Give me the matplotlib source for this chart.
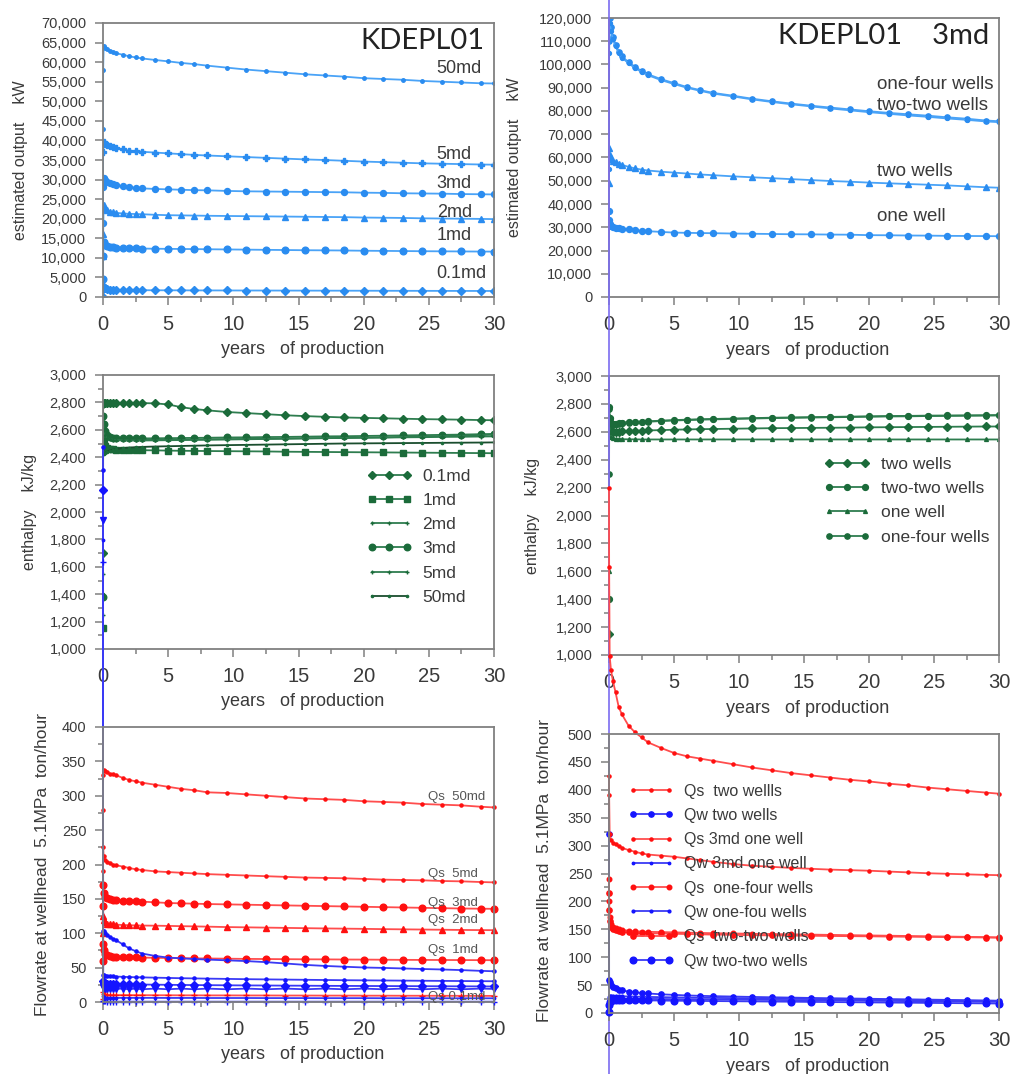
import matplotlib
matplotlib.use("Agg")
import matplotlib.pyplot as plt
from matplotlib.ticker import MultipleLocator, FuncFormatter

plt.rcParams['font.family'] = ['Liberation Sans', 'DejaVu Sans']

# ---------------- data ----------------
years = [0, 0.01, 0.05, 0.15, 0.3, 0.5, 0.75, 1, 1.5, 2, 2.5, 3, 4, 5, 6, 7, 8, 9.5,
         11, 12.5, 14, 15.5, 17, 18.5, 20, 21.5, 23, 24.5, 26, 27.5, 29, 30]

# panel 1: estimated output (kW) by permeability
out_50md = [43000, 58000, 64000, 63700, 63300, 62900, 62600, 62300, 61900, 61500, 61200, 60950, 60550, 60200, 59800, 59500,
            59100, 58600, 58100, 57700, 57300, 56900, 56600, 56300, 55900, 55700, 55500, 55200, 55000, 54800, 54600, 54550]
out_5md = [30000, 37000, 39700, 39200, 38900, 38600, 38300, 38000, 37700, 37400, 37250, 37100, 36900, 36700, 36500, 36300,
           36150, 35950, 35750, 35550, 35350, 35150, 35000, 34800, 34600, 34450, 34300, 34150, 34050, 33950, 33850, 33800]
out_3md = [19000, 28000, 30500, 29900, 29400, 29000, 28800, 28600, 28300, 28100, 27900, 27750, 27600, 27500, 27400, 27300,
           27250, 27100, 27000, 26950, 26900, 26850, 26800, 26750, 26650, 26600, 26500, 26450, 26400, 26300, 26250, 26200]
out_2md = [10500, 16000, 23500, 22600, 22100, 21800, 21650, 21500, 21350, 21250, 21200, 21150, 21000, 20900, 20850, 20800,
           20750, 20700, 20650, 20600, 20550, 20500, 20450, 20400, 20300, 20250, 20200, 20100, 20050, 20000, 19950, 19900]
out_1md = [4500, 10500, 14000, 13300, 13000, 12850, 12700, 12600, 12500, 12450, 12400, 12380, 12330, 12300, 12270, 12240,
           12200, 12150, 12100, 12050, 12000, 11950, 11920, 11880, 11820, 11780, 11740, 11700, 11670, 11640, 11610, 11600]
out_01md = [0, 2000, 2600, 2200, 2000, 1900, 1850, 1800, 1780, 1760, 1750, 1740, 1720, 1710, 1700, 1690,
            1680, 1670, 1660, 1650, 1640, 1630, 1620, 1610, 1600, 1590, 1580, 1570, 1560, 1550, 1545, 1540]
out_labels = ['50md', '5md', '3md', '2md', '1md', '0.1md']

# panel 2: estimated output (kW), 3md, well configurations
out_onefour = [60000, 110000, 120000, 116000, 112000, 108500, 105500, 103500, 101000, 99000, 97200, 95800, 93700, 92000, 90300, 89000,
               87800, 86600, 85300, 84200, 83200, 82300, 81500, 80700, 79900, 79200, 78600, 78000, 77300, 76700, 75900, 75600]
out_twotwo = [55000, 105000, 118000, 114500, 111000, 107800, 105000, 103000, 100500, 98500, 96800, 95400, 93300, 91600, 90000, 88700,
              87500, 86300, 85000, 83900, 82900, 82000, 81100, 80300, 79500, 78800, 78100, 77500, 76800, 76200, 75500, 75200]
out_two = [49000, 64000, 61000, 59500, 58700, 58000, 57400, 56800, 56000, 55300, 54800, 54400, 53900, 53500, 53100, 52700,
           52400, 51900, 51500, 51100, 50700, 50300, 49900, 49600, 49200, 48900, 48600, 48300, 48000, 47600, 47200, 47000]
out_one = [37000, 33000, 31500, 30500, 30000, 29700, 29500, 29400, 29100, 28700, 28500, 28300, 28000, 27700, 27600, 27500,
           27450, 27300, 27200, 27100, 27000, 26950, 26850, 26800, 26600, 26550, 26450, 26400, 26300, 26250, 26200, 26150]
well_labels = ['one-four wells', 'two-two wells', 'two wells', 'one well']

# panel 3: enthalpy (kJ/kg) by permeability
h_01md = [1700, 2790, 2795, 2795, 2795, 2795, 2795, 2795, 2795, 2795, 2795, 2795, 2793, 2785, 2765, 2752,
          2742, 2730, 2722, 2714, 2706, 2700, 2695, 2690, 2687, 2684, 2681, 2678, 2676, 2674, 2671, 2670]
h_1md = [1150, 2600, 2520, 2480, 2465, 2460, 2458, 2456, 2455, 2454, 2452, 2451, 2450, 2448, 2447, 2446,
         2445, 2444, 2443, 2442, 2440, 2439, 2438, 2437, 2436, 2435, 2434, 2433, 2432, 2431, 2430, 2429]
h_2md = [1250, 2690, 2620, 2570, 2550, 2542, 2538, 2535, 2532, 2530, 2529, 2528, 2528, 2528, 2529, 2530,
         2531, 2532, 2533, 2535, 2536, 2538, 2539, 2540, 2542, 2543, 2545, 2546, 2548, 2549, 2551, 2552]
h_3md = [1380, 2700, 2640, 2590, 2560, 2548, 2543, 2540, 2538, 2537, 2537, 2537, 2538, 2539, 2540, 2541,
         2542, 2544, 2545, 2547, 2548, 2550, 2552, 2553, 2555, 2557, 2559, 2561, 2563, 2565, 2568, 2570]
h_5md = [1550, 2680, 2600, 2560, 2540, 2532, 2528, 2525, 2523, 2522, 2522, 2522, 2523, 2524, 2525, 2526,
         2527, 2529, 2531, 2533, 2535, 2537, 2539, 2541, 2543, 2545, 2548, 2551, 2554, 2557, 2561, 2565]
h_50md = [1400, 2420, 2425, 2432, 2440, 2448, 2455, 2460, 2466, 2470, 2473, 2475, 2478, 2480, 2482, 2484,
          2486, 2488, 2490, 2492, 2494, 2496, 2498, 2500, 2501, 2502, 2503, 2504, 2505, 2506, 2507, 2508]

# panel 4: enthalpy (kJ/kg), 3md, well configurations
h_two = [1150, 2700, 2640, 2610, 2600, 2600, 2601, 2603, 2605, 2607, 2609, 2610, 2612, 2615, 2617, 2619,
         2620, 2622, 2624, 2626, 2627, 2628, 2629, 2630, 2632, 2633, 2634, 2635, 2636, 2637, 2638, 2638]
h_twotwo = [1400, 2780, 2700, 2665, 2655, 2658, 2662, 2665, 2668, 2671, 2673, 2675, 2680, 2684, 2687, 2690,
            2692, 2695, 2698, 2701, 2703, 2705, 2707, 2709, 2711, 2713, 2714, 2716, 2717, 2718, 2719, 2720]
h_one = [1600, 2680, 2600, 2565, 2555, 2550, 2548, 2547, 2546, 2546, 2545, 2545, 2545, 2545, 2545, 2545,
         2545, 2545, 2545, 2545, 2545, 2545, 2545, 2545, 2545, 2545, 2545, 2545, 2545, 2545, 2545, 2545]
h_onefour = [2300, 2760, 2690, 2660, 2652, 2655, 2659, 2662, 2665, 2668, 2670, 2672, 2677, 2681, 2684, 2687,
             2689, 2692, 2695, 2698, 2700, 2702, 2704, 2706, 2708, 2710, 2711, 2713, 2714, 2715, 2716, 2717]

# panel 5: flowrate at wellhead (ton/hour) by permeability
qs_50md = [280, 330, 338, 336, 334, 332, 331, 330, 326, 323, 321, 319, 316, 313, 310, 308,
           305, 304, 302, 300, 298, 296, 295, 294, 292, 291, 290, 288, 287, 286, 284, 283]
qs_5md = [190, 225, 212, 207, 204, 202, 200, 199, 197, 195, 193, 192, 190, 189, 188, 187,
          186, 185, 184, 183, 182, 181, 180.5, 180, 179, 178, 177.5, 177, 176, 175.5, 174.5, 174]
qs_3md = [140, 170, 158, 153, 151, 150, 149, 148, 147.5, 147, 146.5, 146, 145, 144, 143.5, 143,
          142.5, 142, 141.5, 141, 140.5, 140, 139.5, 139, 138.5, 138, 137.5, 137, 136.5, 136, 135.7, 135.5]
qs_2md = [100, 125, 119, 116, 114, 113.5, 113, 112.5, 112, 111.7, 111.4, 111.2, 111, 110.7, 110.3, 110,
          109.6, 109, 108.6, 108.2, 107.8, 107.4, 107, 106.7, 106.4, 106, 105.7, 105.4, 105.1, 104.8, 104.6, 104.5]
qs_1md = [60, 85, 75, 70, 68, 67, 66, 65.6, 65.2, 65, 64.8, 64.6, 64.3, 64, 63.8, 63.5,
          63.3, 63, 62.7, 62.5, 62.3, 62.1, 62, 61.8, 61.7, 61.5, 61.3, 61.2, 61.1, 61, 60.9, 60.8]
qs_01md = [5, 14, 11, 10.5, 10.3, 10.2, 10.1, 10, 10, 10, 9.9, 9.9, 9.8, 9.8, 9.7, 9.7,
           9.6, 9.6, 9.5, 9.5, 9.4, 9.4, 9.3, 9.3, 9.2, 9.2, 9.1, 9.1, 9, 9, 8.9, 8.9]
qw_50md = [807, 104, 103, 100, 97, 95, 92, 90, 84, 78, 74, 70.5, 67, 64.6, 63.5, 62.5,
           61.7, 60.6, 59.5, 58, 56, 54, 52.5, 51.3, 50.2, 49.6, 48.8, 48, 47.3, 46.4, 45.3, 44.7]
qw_5md = [774, 40, 39, 38.5, 38, 37.5, 37.2, 37, 36.6, 36.3, 36, 35.8, 35.4, 35, 34.6, 34.3,
          34, 33.6, 33.2, 32.9, 32.6, 32.3, 32, 31.7, 31.5, 31.3, 31.1, 30.9, 30.7, 30.5, 30.3, 30.2]
qw_3md = [745, 30, 28, 27, 26.5, 26.3, 26.1, 26, 25.8, 25.6, 25.5, 25.4, 25.2, 25, 24.8, 24.6,
          24.5, 24.3, 24.1, 24, 23.8, 23.7, 23.5, 23.4, 23.3, 23.2, 23.1, 23, 22.9, 22.8, 22.7, 22.6]
qw_2md = [701, 22, 20, 19.5, 19.3, 19.2, 19.1, 19, 19.5, 18.5, 19.5, 18.5, 19.5, 18.5, 19.5, 18.5,
          19.5, 18.5, 19.5, 18.5, 19.5, 18.5, 19.5, 18.5, 19.5, 18.5, 19.5, 18.5, 19.5, 18.5, 19.5, 19]
qw_1md = [672, 9, 7, 6.5, 6.3, 6.2, 6.1, 6, 6, 6, 6, 6, 6, 5.9, 5.9, 5.9,
          5.8, 5.8, 5.8, 5.7, 5.7, 5.7, 5.6, 5.6, 5.6, 5.5, 5.5, 5.5, 5.4, 5.4, 5.4, 5.4]
qw_01md = [640, 2, 1, 0.8, 0.7, 0.6, 0.6, 0.5, 0.5, 0.5, 0.5, 0.5, 0.5, 0.5, 0.5, 0.5,
           0.5, 0.5, 0.5, 0.5, 0.5, 0.5, 0.5, 0.5, 0.5, 0.5, 0.5, 0.5, 0.5, 0.5, 0.5, 0.5]
qs_labels = ['Qs  50md', 'Qs  5md', 'Qs  3md', 'Qs  2md', 'Qs  1md', 'Qs 0.1md']

# panel 6: flowrate at wellhead (ton/hour), well configurations
qs_two = [940, 800, 640, 615, 595, 575, 548, 535, 515, 503, 494, 485, 475, 466, 460, 456,
          452, 446, 440, 435, 430, 426, 422, 418, 415, 411, 408, 404, 401, 398, 395, 393]
qw_two = [320, 60, 55, 50, 47, 44, 42, 40.5, 38.5, 37, 36, 35, 33.5, 32.5, 31.5, 30.8,
          30.2, 29.5, 28.8, 28.2, 27.6, 27, 26.5, 26, 25.5, 25, 24.5, 24, 23.5, 23, 22.5, 22]
qs_one = [425, 390, 320, 310, 305, 302, 299, 296, 292, 289, 286, 284, 282, 280, 277, 274,
          271, 267, 264, 262, 260, 258.5, 257, 256, 255, 253.5, 252, 250.5, 249.5, 248.5, 247.5, 247]
qw_one = [0, 20, 24, 25, 25.5, 25.5, 25.5, 25.5, 25.5, 25.4, 25.3, 25.2, 25, 24.8, 24.6, 24.4,
          24.2, 24, 23.7, 23.4, 23.1, 22.8, 22.5, 22.2, 21.9, 21.6, 21.3, 21, 20.7, 20.4, 20.1, 20]
qs_onefour = [240, 200, 172, 160, 155, 152, 150, 149, 147.5, 146.5, 146, 145.5, 145, 144.5, 144, 143.5,
              143, 142.5, 142, 141.5, 141, 140.5, 140, 139.5, 139, 138.5, 138, 137.5, 137, 136.5, 136, 135.5]
qw_onefour = [5, 28, 31, 31, 30.8, 30.5, 30.2, 30, 29.7, 29.4, 29.1, 28.8, 28.4, 28, 27.7, 27.4,
              27.1, 26.7, 26.3, 25.9, 25.5, 25.1, 24.7, 24.3, 23.9, 23.5, 23.1, 22.7, 22.3, 21.9, 21.5, 21.3]
qs_twotwo = [215, 185, 165, 155, 151, 148, 146.5, 145.5, 144.5, 144, 143.5, 143, 142.5, 142, 141.5, 141,
             140.5, 140, 139.5, 139, 138.7, 138.4, 138, 137.7, 137.4, 137, 136.7, 136.4, 136, 135.7, 135.3, 135]
qw_twotwo = [2, 15, 20, 22, 23, 23.5, 23.5, 23.5, 23.3, 23, 22.8, 22.6, 22.3, 22, 21.8, 21.6,
             21.4, 21.1, 20.8, 20.5, 20.2, 19.9, 19.6, 19.3, 19, 18.7, 18.4, 18.1, 17.8, 17.5, 17.2, 17]
flow_labels = ['Qs  two wellls', 'Qw two wells', 'Qs 3md one well', 'Qw 3md one well',
               'Qs  one-four wells', 'Qw one-fou wells', 'Qs  two-two wells', 'Qw two-two wells']

# ---------------- figure ----------------
W, H = 1011, 1074
fig = plt.figure(figsize=(W / 100, H / 100), dpi=100)


def add_ax(left, right, top, bottom):
    return fig.add_axes([left / W, (H - bottom) / H, (right - left) / W, (bottom - top) / H])


GRAY = '#808080'
TXT = '#3a3a3a'


def style(ax, ylim, ymaj, ymin=None, comma=True):
    ax.set_xlim(0, 30)
    ax.set_ylim(*ylim)
    ax.xaxis.set_major_locator(MultipleLocator(5))
    ax.xaxis.set_minor_locator(MultipleLocator(2.5))
    ax.yaxis.set_major_locator(MultipleLocator(ymaj))
    if ymin:
        ax.yaxis.set_minor_locator(MultipleLocator(ymin))
    if comma:
        ax.yaxis.set_major_formatter(FuncFormatter(lambda v, p: f'{v:,.0f}'))
    for s in ax.spines.values():
        s.set_color(GRAY)
        s.set_linewidth(1.3)
    ax.tick_params(axis='both', which='both', direction='out', color=GRAY, labelcolor=TXT, width=1.1)
    ax.tick_params(axis='x', which='major', length=6, labelsize=14.5, pad=7)
    ax.tick_params(axis='x', which='minor', length=3.5)
    ax.tick_params(axis='y', which='major', length=6, labelsize=10.5, pad=6)
    ax.tick_params(axis='y', which='minor', length=3.5)
    ax.text(0.51, -0.19, 'years   of production', transform=ax.transAxes, ha='center', va='center',
            fontsize=13, color=TXT)


def ylab(ax, x, y, s, fs=11.5):
    ax.text(x, y, s, transform=ax.transAxes, rotation=90, ha='center', va='center', fontsize=fs, color=TXT)


BL_L, BL_M = '#4aa3f7', '#2a8cf0'
GR_L, GR_M = '#2e7d4f', '#1b6b3a'
RD_L, RD_M = '#ff4d4d', '#ff1010'
BU_L, BU_M = '#3a3af5', '#1414ff'
LW = 1.3

RIGHT_R = 999  # right column axes right edge (px)

# ---- panel 1 ----
ax1 = add_ax(103, 494, 23, 297)
style(ax1, (0, 70000), 5000)
p1 = [(out_50md, 'o', 2.5), (out_5md, 'P', 4), (out_3md, 'o', 4.3), (out_2md, '^', 4.3),
      (out_1md, 'o', 4.8), (out_01md, 'D', 3.8)]
for vals, mk, ms in p1:
    ax1.plot(years, vals, color=BL_L, lw=LW, marker=mk, ms=ms, mfc=BL_M, mec=BL_M)
ax1.axhline(0, color='#d09070', lw=1.2, zorder=1)
lab1_y = [58500, 36500, 28900, 21700, 15800, 6100]
for yv, s in zip(lab1_y, out_labels):
    ax1.text(25.6, yv, s, fontsize=13, color=TXT, va='center', ha='left')
ax1.text(0.975, 0.935, 'KDEPL01', transform=ax1.transAxes, ha='right', va='center',
         fontsize=21, family=['Lato', 'DejaVu Sans'], color='#222222')
ylab(ax1, -0.212, 0.5, 'estimated output    kW')

# ---- panel 2 ----
ax2 = add_ax(609, RIGHT_R, 18, 297)
style(ax2, (0, 120000), 10000)
p2 = [(out_onefour, 'o', 3.8), (out_twotwo, 'o', 2.8), (out_two, '^', 4.3), (out_one, 'o', 4.3)]
for vals, mk, ms in p2:
    ax2.plot(years, vals, color=BL_L, lw=LW, marker=mk, ms=ms, mfc=BL_M, mec=BL_M)
lab2_y = [91600, 82200, 53800, 34800]
for yv, s in zip(lab2_y, well_labels):
    ax2.text(20.6, yv, s, fontsize=13.5, color=TXT, va='center', ha='left')
ax2.text(0.975, 0.937, 'KDEPL01    3md', transform=ax2.transAxes, ha='right', va='center',
         fontsize=21, family=['Lato', 'DejaVu Sans'], color='#222222')
ylab(ax2, -0.243, 0.5, 'estimated output    kW')

# ---- panel 3 ----
ax3 = add_ax(103, 494, 375, 649)
style(ax3, (1000, 3000), 200, 100)
p3 = [(h_01md, '0.1md', 'D', 4.2, GR_L), (h_1md, '1md', 's', 4.2, GR_L), (h_2md, '2md', '+', 3.2, GR_L),
      (h_3md, '3md', 'o', 4.7, GR_L), (h_5md, '5md', '+', 3.2, GR_L), (h_50md, '50md', '.', 3.2, '#1a4d2e')]
for vals, lb, mk, ms, lc in p3:
    ax3.plot(years, vals, color=lc, lw=LW, marker=mk, ms=ms, mfc=GR_M, mec=GR_M, label=lb)
ax3.legend(loc='upper left', bbox_to_anchor=(0.675, 0.658), frameon=False, fontsize=12.5, numpoints=3,
           handlelength=2.6, handletextpad=0.6, labelspacing=0.52, borderpad=0, borderaxespad=0,
           labelcolor=TXT)
ylab(ax3, -0.187, 0.5, 'enthalpy    kJ/kg')

# ---- panel 4 ----
ax4 = add_ax(609, RIGHT_R, 376, 655)
style(ax4, (1000, 3000), 200, 100)
p4 = [(h_two, 'two wells', 'D', 4.2), (h_twotwo, 'two-two wells', 'o', 4.2),
      (h_one, 'one well', '^', 2.8), (h_onefour, 'one-four wells', 'o', 3.8)]
for vals, lb, mk, ms in p4:
    ax4.plot(years, vals, color=GR_L, lw=LW, marker=mk, ms=ms, mfc=GR_M, mec=GR_M, label=lb)
ax4.legend(loc='upper left', bbox_to_anchor=(0.55, 0.71), frameon=False, fontsize=12.5, numpoints=3,
           handlelength=2.7, handletextpad=0.6, labelspacing=0.52, borderpad=0, borderaxespad=0,
           labelcolor=TXT)
ylab(ax4, -0.197, 0.5, 'enthalpy    kJ/kg')

# ---- panel 5 ----
ax5 = add_ax(103, 494, 727, 1002)
style(ax5, (0, 400), 50, 25, comma=False)
p5s = [(qs_50md, '.', 4.5), (qs_5md, '.', 4.5), (qs_3md, 'o', 4.8), (qs_2md, '^', 3.8),
       (qs_1md, 'o', 4.8), (qs_01md, '+', 4.5)]
for vals, mk, ms in p5s:
    ax5.plot(years, vals, color=RD_L, lw=LW, marker=mk, ms=ms, mfc=RD_M, mec=RD_M, clip_on=False)
p5w = [(qw_50md, '.', 4.5), (qw_5md, '.', 4.5), (qw_3md, 'D', 3.8), (qw_2md, 'v', 4.3),
       (qw_1md, '.', 3.5), (qw_01md, '+', 4.5)]
for vals, mk, ms in p5w:
    ax5.plot(years, vals, color=BU_L, lw=LW, marker=mk, ms=ms, mfc=BU_M, mec=BU_M, clip_on=False)
lab5_y = [298, 186, 144, 119, 76, 7]
for yv, s in zip(lab5_y, qs_labels):
    ax5.text(24.9, yv, s, fontsize=9.5, color='#555555', va='center', ha='left')
ylab(ax5, -0.156, 0.5, 'Flowrate at wellhead  5.1MPa  ton/hour', fs=12.5)

# ---- panel 6 ----
ax6 = add_ax(609, RIGHT_R, 734, 1013)
style(ax6, (0, 500), 50, 25, comma=False)
p6 = [(qs_two, RD_L, RD_M, '.', 4.5), (qw_two, BU_L, BU_M, 'o', 3.8),
      (qs_one, RD_L, RD_M, '.', 4.5), (qw_one, BU_L, BU_M, '.', 3.5),
      (qs_onefour, RD_L, RD_M, 'o', 3.3), (qw_onefour, BU_L, BU_M, '.', 4),
      (qs_twotwo, RD_L, RD_M, 'o', 3.8), (qw_twotwo, BU_L, BU_M, 'o', 4.8)]
for (vals, lc, mc, mk, ms), lb in zip(p6, flow_labels):
    ax6.plot(years, vals, color=lc, lw=LW, marker=mk, ms=ms, mfc=mc, mec=mc, label=lb, clip_on=False)
ax6.legend(loc='upper left', bbox_to_anchor=(0.048, 0.822), frameon=False, fontsize=11.5, numpoints=3,
           handlelength=2.9, handletextpad=0.65, labelspacing=0.58, borderpad=0, borderaxespad=0,
           labelcolor=TXT)
ylab(ax6, -0.165, 0.51, 'Flowrate at wellhead  5.1MPa  ton/hour', fs=12.5)
# vertical axis guide that runs through the whole right column
ax6.axvline(0, ymin=-0.22, ymax=3.63, color='#7b6cf0', lw=1.2, clip_on=False, zorder=0.5)

fig.savefig('out.png', dpi=100, facecolor='white')
